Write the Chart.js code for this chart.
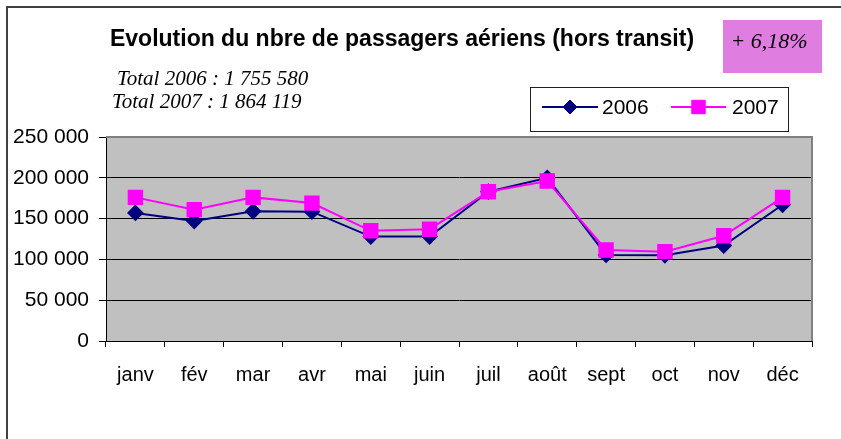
<!DOCTYPE html>
<html><head><meta charset="utf-8">
<script src="https://cdn.jsdelivr.net/npm/chart.js@4/dist/chart.umd.min.js"></script>
<style>html,body{margin:0;padding:0;background:#fff;}canvas{display:block;}</style>
</head><body>
<canvas id="c" width="841" height="439"></canvas>
<script>
const months = ['janv','fév','mar','avr','mai','juin','juil','août','sept','oct','nov','déc'];
const passengers2006 = [157000,147000,159000,158500,128000,128000,183000,200000,105500,105000,117000,167000];
const passengers2007 = [176000,161000,176000,169000,135000,137000,183000,196000,111500,109500,129000,176000];
const seriesNames = ['2006','2007'];
const yTicks = [0,50000,100000,150000,200000,250000];
const titleText = 'Evolution du nbre de passagers aériens (hors transit)';
const totalLines = ['Total 2006 : 1 755 580','Total 2007 : 1 864 119'];
const growthText = '+ 6,18%';

function fmt(v){ return String(v).replace(/\B(?=(\d{3})+(?!\d))/g,' '); }

const SANS = '"Liberation Sans", Arial, sans-serif';
const SERIF = '"Liberation Serif", "Times New Roman", serif';

const decor = {
  id:'decor',
  beforeDraw(chart){
    const {ctx, chartArea:a} = chart;
    ctx.save();
    ctx.fillStyle='#fff'; ctx.fillRect(0,0,chart.width,chart.height);
    ctx.fillStyle='#c0c0c0'; ctx.fillRect(a.left,a.top,a.right-a.left,a.bottom-a.top);
    ctx.restore();
  },
  beforeDatasetsDraw(chart){
    const {ctx, chartArea:a} = chart;
    ctx.save();
    ctx.strokeStyle='#808080'; ctx.lineWidth=2;
    ctx.beginPath();
    ctx.moveTo(a.left, a.top); ctx.lineTo(a.right, a.top); ctx.lineTo(a.right, a.bottom);
    ctx.stroke();
    ctx.restore();
  },
  afterDraw(chart){
    const ctx = chart.ctx;
    ctx.save();
    // outer frame
    ctx.strokeStyle='#404040'; ctx.lineWidth=2;
    ctx.beginPath(); ctx.moveTo(7,439); ctx.lineTo(7,7); ctx.lineTo(841,7); ctx.stroke();
    // title
    ctx.fillStyle='#000'; ctx.textBaseline='alphabetic';
    ctx.font='bold 23px '+SANS; ctx.textAlign='center';
    ctx.fillText(titleText, 402, 45.5);
    // totals
    ctx.font='italic 21px '+SERIF; ctx.textAlign='left';
    ctx.fillText(totalLines[0], 117, 85);
    ctx.fillText(totalLines[1], 112, 108);
    // growth box
    ctx.fillStyle='#e07de0'; ctx.fillRect(723,20,99,53);
    ctx.fillStyle='#000'; ctx.font='italic 22px '+SERIF; ctx.textAlign='center';
    ctx.fillText(growthText, 769, 48);
    // legend
    ctx.fillStyle='#fff'; ctx.fillRect(530,87,258,44);
    ctx.strokeStyle='#202020'; ctx.lineWidth=1; ctx.strokeRect(530.5,87.5,258,44);
    const items = [{x0:542,x1:598,tx:602},{x0:671,x1:726,tx:732}];
    chart.data.datasets.forEach((ds,i)=>{
      const it = items[i], y=107;
      ctx.strokeStyle=ds.borderColor; ctx.lineWidth=ds.borderWidth;
      ctx.beginPath(); ctx.moveTo(it.x0,y); ctx.lineTo(it.x1,y); ctx.stroke();
      ctx.fillStyle=ds.pointBackgroundColor; ctx.strokeStyle=ds.pointBorderColor; ctx.lineWidth=1;
      Chart.helpers.drawPoint(ctx,{pointStyle:ds.pointStyle,rotation:0,radius:ds.pointRadius,borderWidth:1},(it.x0+it.x1)/2,y);
      ctx.fillStyle='#000'; ctx.font='21px '+SANS; ctx.textAlign='left'; ctx.textBaseline='alphabetic';
      ctx.fillText(ds.label, it.tx, 114);
    });
    ctx.restore();
  }
};

new Chart(document.getElementById('c'), {
  type:'line',
  data:{
    labels: months,
    datasets:[
      {label:seriesNames[0], data:passengers2006, borderColor:'#000080', backgroundColor:'#000080',
       pointBackgroundColor:'#000080', pointBorderColor:'#000080', borderWidth:2,
       pointStyle:'rectRot', pointRadius:7, pointHoverRadius:7, order:1, tension:0},
      {label:seriesNames[1], data:passengers2007, borderColor:'#ff00ff', backgroundColor:'#ff00ff',
       pointBackgroundColor:'#ff00ff', pointBorderColor:'#ff00ff', borderWidth:2,
       pointStyle:'rect', pointRadius:9.5, pointHoverRadius:9.5, order:0, tension:0}
    ]
  },
  options:{
    responsive:false, animation:false, devicePixelRatio:1,
    layout:{padding:{left:0, top:137, right:29, bottom:0}},
    plugins:{legend:{display:false}, title:{display:false}, tooltip:{enabled:false}},
    scales:{
      x:{
        offset:true,
        grid:{offset:true, drawOnChartArea:false, drawTicks:true, tickLength:6, tickColor:'#000', tickWidth:1},
        border:{display:true, color:'#000', width:1},
        ticks:{color:'#000', font:{family:SANS, size:20}, padding:16, maxRotation:0, autoSkip:false},
        afterFit(s){ s.height = 98; }
      },
      y:{
        min:0, max:250000,
        afterBuildTicks(s){ s.ticks = yTicks.map(v=>({value:v})); },
        grid:{color:(c)=> c.tick && c.tick.value===250000 ? '#808080' : '#000', lineWidth:1,
              drawTicks:true, tickLength:7, tickColor:'#000'},
        border:{display:true, color:'#000', width:1},
        ticks:{color:'#000', font:{family:SANS, size:21}, padding:10, callback:(v)=>fmt(v)},
        afterFit(s){ s.width = 106; }
      }
    }
  },
  plugins:[decor]
});
</script>
</body></html>
